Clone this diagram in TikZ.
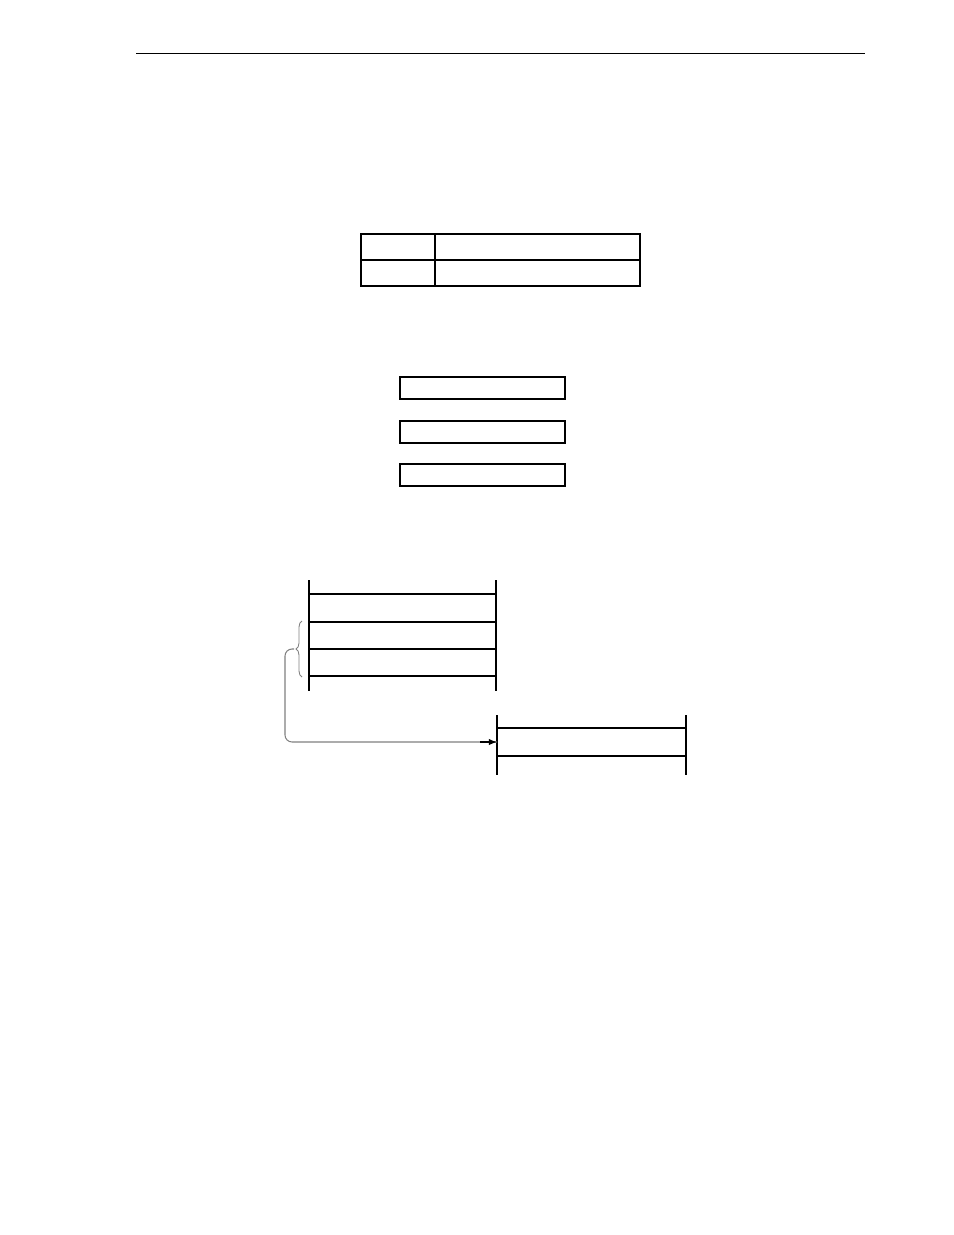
\documentclass[tikz,border=0pt]{standalone}
\usepackage{tikz}
\usetikzlibrary{arrows}
\usetikzlibrary{decorations.pathreplacing}

\begin{document}
\begin{tikzpicture}[x=0.02cm, y=-0.02cm, line width=0.7pt,
		thickedge/.style={line width=1.6pt},
		link/.style={gray, line width=0.6pt, rounded corners=4pt}]
			\useasboundingbox (0,0) rectangle (954,1235);
			% header rule
			\draw[line width=0.5pt] (136,53) -- (865,53);
			
			% table
			\draw[line width=1.2pt] (361,234) rectangle (640,286);
			\draw (361,260) -- (640,260);
			\draw (435,234) -- (435,286);
			
			% boxes
			\foreach \y in {377,421,464}{
				\draw (400,\y) rectangle (565,\y+22);
				\draw[thickedge] (565,\y) -- (565,\y+22) -- (400,\y+22);
			}
			
			% first stack
			\draw (309,580) -- (309,691);
			\draw[thickedge] (496,580) -- (496,691);
			\foreach \y in {594,622,649,676}
				\draw (309,\y) -- (496,\y);
			\draw[gray, line width=0.5pt, decorate, decoration={brace, amplitude=1.2mm}]
				(302,677) -- (302,621);
			\coordinate (bracetip) at (294,649);
			
			% second stack
			\draw[thickedge] (497,715) -- (497,775);
			\draw[thickedge] (686,715) -- (686,775);
			\foreach \y in {728,756}
				\draw (497,\y) -- (686,\y);
			\coordinate (target) at (497,742);
			
			\draw[link] (bracetip) -- (285,649) -- (285,742) -- (target);
			\draw[-latex, line width=0.6pt] (480,742) -- (target);
		\end{tikzpicture}
\end{document}
